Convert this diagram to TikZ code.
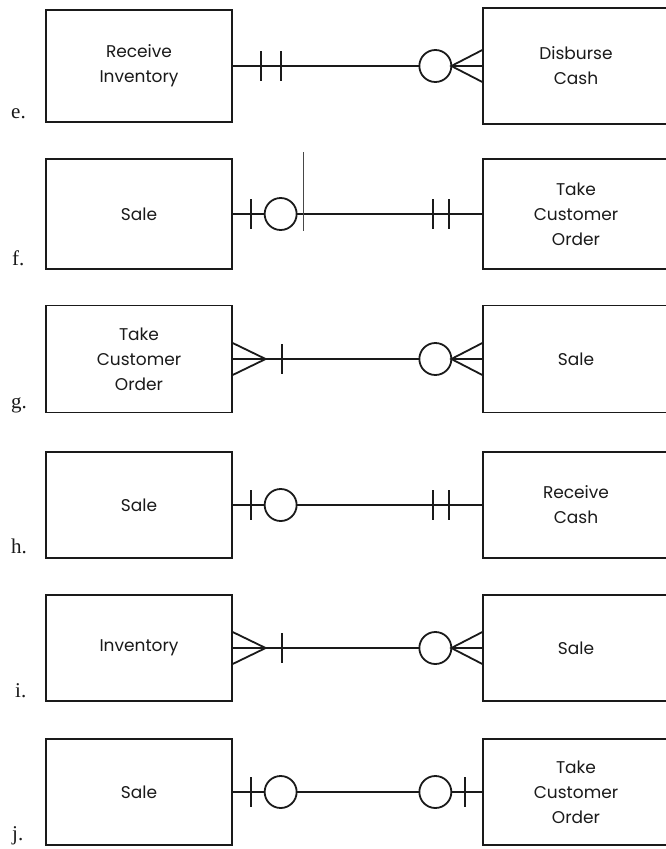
\documentclass[tikz,border=0pt]{standalone}
\usepackage{fontspec}
\setmainfont{Poppins}
\newfontfamily\labfont{Liberation Serif}
\usetikzlibrary{calc}
\definecolor{ink}{HTML}{1A1A1A}
\tikzset{
  ent/.style={draw=ink, line width=1.3pt, minimum width=186pt, inner sep=0pt, align=center,
              font=\fontsize{17}{25}\selectfont, text=ink},
  conn/.style={draw=ink, line width=1.8pt},
  sym/.style={draw=ink, line width=1.8pt},
  lab/.style={font=\labfont\fontsize{21}{21}\selectfont, text=ink, anchor=base west, inner sep=0pt}
}
\newcommand\mandL[1]{%
  \draw[sym] ([xshift=28pt,yshift=15pt]#1.east) -- ([xshift=28pt,yshift=-15pt]#1.east);
  \draw[sym] ([xshift=48pt,yshift=15pt]#1.east) -- ([xshift=48pt,yshift=-15pt]#1.east);}
\newcommand\mandR[1]{%
  \draw[sym] ([xshift=-49pt,yshift=15pt]#1.west) -- ([xshift=-49pt,yshift=-15pt]#1.west);
  \draw[sym] ([xshift=-33pt,yshift=15pt]#1.west) -- ([xshift=-33pt,yshift=-15pt]#1.west);}
\newcommand\optL[1]{%
  \draw[sym] ([xshift=18pt,yshift=15pt]#1.east) -- ([xshift=18pt,yshift=-15pt]#1.east);
  \draw[sym, fill=white] ([xshift=48pt]#1.east) circle[radius=16pt];}
\newcommand\optR[1]{%
  \draw[sym, fill=white] ([xshift=-47pt]#1.west) circle[radius=16pt];
  \draw[sym] ([xshift=-17pt,yshift=15pt]#1.west) -- ([xshift=-17pt,yshift=-15pt]#1.west);}
\newcommand\zmanyR[1]{%
  \draw[sym, fill=white] ([xshift=-47pt]#1.west) circle[radius=16pt];
  \draw[sym] ([yshift=16pt]#1.west) -- ([xshift=-31pt]#1.west) -- ([yshift=-16pt]#1.west);}
\newcommand\manyL[1]{%
  \draw[sym] ([yshift=16pt]#1.east) -- ([xshift=33pt]#1.east) -- ([yshift=-16pt]#1.east);
  \draw[sym] ([xshift=49pt,yshift=15pt]#1.east) -- ([xshift=49pt,yshift=-15pt]#1.east);}
\begin{document}
\begin{tikzpicture}[x=1pt,y=-1pt]
\useasboundingbox[fill=white] (0,0) rectangle (665,849);

% e
\node[ent, minimum height=112pt] (eL) at (139,66) {Receive\\Inventory};
\node[ent, minimum height=116pt] (eR) at (576,66) {Disburse\\Cash};
\draw[conn] (eL.east) -- (eR.west);
\mandL{eL}\zmanyR{eR}
\node[lab] (le) at (11,118) {e.};

% f
\node[ent, minimum height=110pt] (fL) at (139,214) {Sale};
\node[ent, minimum height=110pt] (fR) at (576,214) {Take\\Customer\\Order};
\draw[conn] (fL.east) -- (fR.west);
\optL{fL}\mandR{fR}
\draw[draw=ink!80, line width=0.9pt] (303,152) -- (303,231);
\node[lab] (lf) at (12,265) {f.};

% g
\node[ent, minimum height=107pt] (gL) at (139,359) {Take\\Customer\\Order};
\node[ent, minimum height=107pt] (gR) at (576,359) {Sale};
\draw[conn] (gL.east) -- (gR.west);
\manyL{gL}\zmanyR{gR}
\node[lab] (lg) at (11,408) {g.};

% h
\node[ent, minimum height=106pt] (hL) at (139,505) {Sale};
\node[ent, minimum height=106pt] (hR) at (576,505) {Receive\\Cash};
\draw[conn] (hL.east) -- (hR.west);
\optL{hL}\mandR{hR}
\node[lab] (lh) at (11,553) {h.};

% i
\node[ent, minimum height=106pt] (iL) at (139,648) {Inventory};
\node[ent, minimum height=106pt] (iR) at (576,648) {Sale};
\draw[conn] (iL.east) -- (iR.west);
\manyL{iL}\zmanyR{iR}
\node[lab] (li) at (15,697) {i.};

% j
\node[ent, minimum height=106pt] (jL) at (139,792) {Sale};
\node[ent, minimum height=106pt] (jR) at (576,792) {Take\\Customer\\Order};
\draw[conn] (jL.east) -- (jR.west);
\optL{jL}\optR{jR}
\node[lab] (lj) at (12,840) {j.};
\end{tikzpicture}
\end{document}
